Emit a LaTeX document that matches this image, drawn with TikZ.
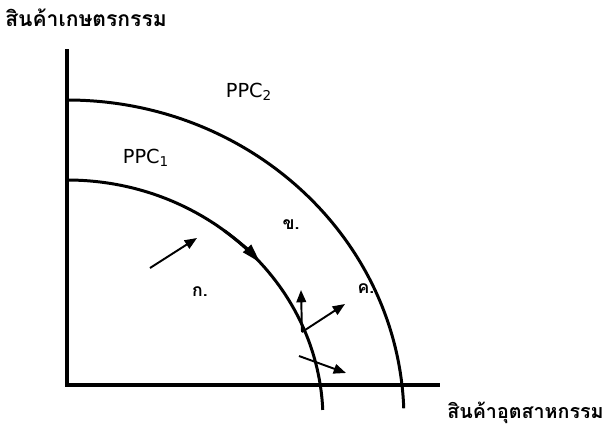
\documentclass[tikz,border=0pt]{standalone}
\usepackage{fontspec}
\setmainfont{DejaVu Sans}
\newfontfamily\thaifont[Script=Thai]{Loma}
\usetikzlibrary{arrows.meta,calc}
\tikzset{
  axisline/.style={line width=2.6pt,draw=black},
  ppcline/.style={line width=1.7pt,draw=black},
  shiftarr/.style={-{Triangle[length=7pt,width=5.5pt]},line width=1.1pt,draw=black},
  curvetip/.style={-{Triangle[length=11pt,width=6pt]},line width=1.7pt,draw=black},
  axislabel/.style={font=\thaifont\bfseries,anchor=west,inner sep=0pt},
  ptlabel/.style={font=\thaifont\bfseries\fontsize{10}{12}\selectfont,inner sep=0pt},
  ppclabel/.style={font=\fontsize{11}{13}\selectfont,inner sep=0pt}
}

\begin{document}
\begin{tikzpicture}[x=0.02cm,y=-0.02cm]
  \useasboundingbox (0,0) rectangle (606,427);
  % axes
  \coordinate (ytop) at (67,49);
  \coordinate (o) at (67,385);
  \coordinate (xend) at (440,385);
  \draw[axisline] (ytop) -- (o) -- (xend);
  \node[axislabel] (ylab) at (5,18) {\fontsize{12}{14}\selectfont สินค้าเกษตรกรรม};
  \node[axislabel] (xlab) at (447,413) {\fontsize{11.2}{13}\selectfont สินค้าอุตสาหกรรม};
  % the two frontiers, both centred on (cen)
  \coordinate (cen) at (67,420);
  \coordinate (p1top) at (67,180);
  \coordinate (p2top) at (67,100);
  \draw[ppcline] (p1top) arc[start angle=-90,end angle=-2.4,x radius=256,y radius=240];
  \draw[ppcline] (p2top) arc[start angle=-90,end angle=-2.1,x radius=337,y radius=320];
  \node[ppclabel] (ppc1) at (146,158) {PPC\textsubscript{1}};
  \node[ppclabel] (ppc2) at (249,92) {PPC\textsubscript{2}};
  % points
  \node[ptlabel] (ka) at (200,292) {ก.};
  \node[ptlabel] (kho) at (291,225) {ข.};
  \node[ptlabel] (kho2) at (366,289) {ค.};
  % movements
  \coordinate (sa) at (150,268);
  \coordinate (sb) at (197,238);
  \draw[shiftarr] (sa) -- (sb);
  \coordinate (ca) at ($(cen)+(-52:256 and 240)$);
  \draw[curvetip] (ca) arc[start angle=-52,end angle=-41,x radius=256,y radius=240];
  \coordinate (pt) at (302,332);
  \coordinate (ptup) at (301,290);
  \coordinate (ptne) at (345,304);
  \draw[shiftarr] (pt) -- (ptup);
  \draw[shiftarr] (pt) -- (ptne);
  \coordinate (qa) at (299,356);
  \coordinate (qb) at (346,373);
  \draw[shiftarr] (qa) -- (qb);
\end{tikzpicture}
\end{document}
